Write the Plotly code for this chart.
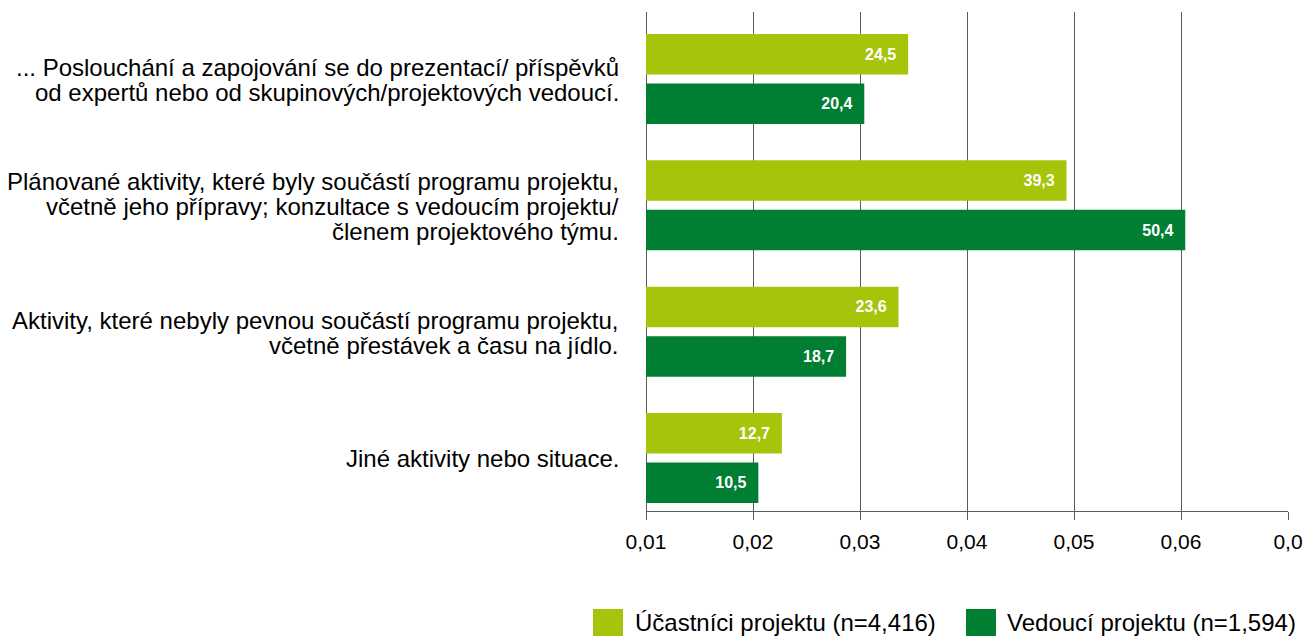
import plotly.graph_objects as go

# ---- data ----
categories = [
    "... Poslouchání a zapojování se do prezentací/ příspěvků<br>od expertů nebo od skupinových/projektových vedoucí.",
    "Plánované aktivity, které byly součástí programu projektu,<br>včetně jeho přípravy; konzultace s vedoucím projektu/<br>členem projektového týmu.",
    "Aktivity, které nebyly pevnou součástí programu projektu,<br>včetně přestávek a času na jídlo.",
    "Jiné aktivity nebo situace.",
]
participants = [24.5, 39.3, 23.6, 12.7]
leaders = [20.4, 50.4, 18.7, 10.5]
series_names = ["Účastníci projektu (n=4,416)", "Vedoucí projektu (n=1,594)"]
tick_vals = [0, 10, 20, 30, 40, 50, 60]
tick_text = ["0,01", "0,02", "0,03", "0,04", "0,05", "0,06", "0,0"]

# ---- geometry (screen pixels) ----
W, H = 1305, 636
PLOT_L, PLOT_R, PLOT_T, PLOT_B = 646, 1288, 12, 511
L, R, T, B = PLOT_L, W - PLOT_R, PLOT_T, H - PLOT_B

LIGHT = "#A6C40A"
DARK = "#007E31"
GRID = "#5c5c5c"
FONT = "Liberation Sans"

def px_x(px):
    return (px - PLOT_L) / (PLOT_R - PLOT_L)

def px_y(py):
    return (PLOT_B - py) / (PLOT_B - PLOT_T)

fig = go.Figure()
for name, vals, col in [(series_names[0], participants, LIGHT), (series_names[1], leaders, DARK)]:
    fig.add_trace(go.Bar(
        y=categories, x=vals, name=name, orientation="h",
        marker=dict(color=col, line=dict(width=0)),
        texttemplate="%{x:.1f}\u00a0\u00a0", textposition="inside",
        insidetextanchor="end",
        textfont=dict(family=FONT, size=16, color="white", weight="bold"),
        showlegend=False,
    ))

fig.update_layout(
    width=W, height=H,
    margin=dict(l=L, r=R, t=T, b=B, pad=0, autoexpand=False),
    paper_bgcolor="white", plot_bgcolor="white",
    barmode="group", bargap=0.216, bargroupgap=0.182,
    separators=", ",
    font=dict(family=FONT, color="#000000"),
    xaxis=dict(
        range=[0, 60], tickvals=tick_vals, ticktext=tick_text,
        showgrid=True, gridcolor=GRID, gridwidth=1,
        zeroline=True, zerolinecolor=GRID, zerolinewidth=1,
        showline=True, linecolor=GRID, linewidth=1,
        ticks="outside", ticklen=8, tickcolor=GRID, tickwidth=1,
        ticklabelstandoff=4,
        tickfont=dict(family=FONT, size=21, color="#000000"),
        automargin=False, fixedrange=True,
    ),
    yaxis=dict(
        type="category", categoryorder="array", categoryarray=categories,
        range=[3.42, -0.531], autorange=False,
        showgrid=False, zeroline=False, showline=False, ticks="",
        showticklabels=False, automargin=False, fixedrange=True,
    ),
)

# category labels, one annotation per line for tight line spacing
LINE = 25
for cat in categories:
    lines = cat.split("<br>")
    n = len(lines)
    for k, line in enumerate(lines):
        off = (k - (n - 1) / 2) * LINE + 1
        fig.add_annotation(xref="paper", yref="y", x=px_x(621), y=cat,
                           xanchor="right", yanchor="middle", showarrow=False,
                           yshift=-off, text=line,
                           font=dict(family=FONT, size=24, color="#000000"))

# custom legend (large square swatches)
legend_items = [(593, 633, LIGHT, series_names[0]), (966, 1005, DARK, series_names[1])]
for sx, tx, col, name in legend_items:
    fig.add_shape(type="rect", xref="paper", yref="paper",
                  x0=px_x(sx), x1=px_x(sx + 30), y0=px_y(609), y1=px_y(640),
                  fillcolor=col, line=dict(width=0))
    fig.add_annotation(xref="paper", yref="paper", x=px_x(tx), y=px_y(622),
                       xanchor="left", yanchor="middle", showarrow=False,
                       text=name, font=dict(family=FONT, size=24, color="#000000"))

fig.write_html(
    "out.html",
    config={"displayModeBar": False},
    post_script="document.body.style.margin='0';document.body.style.overflow='hidden';",
)
